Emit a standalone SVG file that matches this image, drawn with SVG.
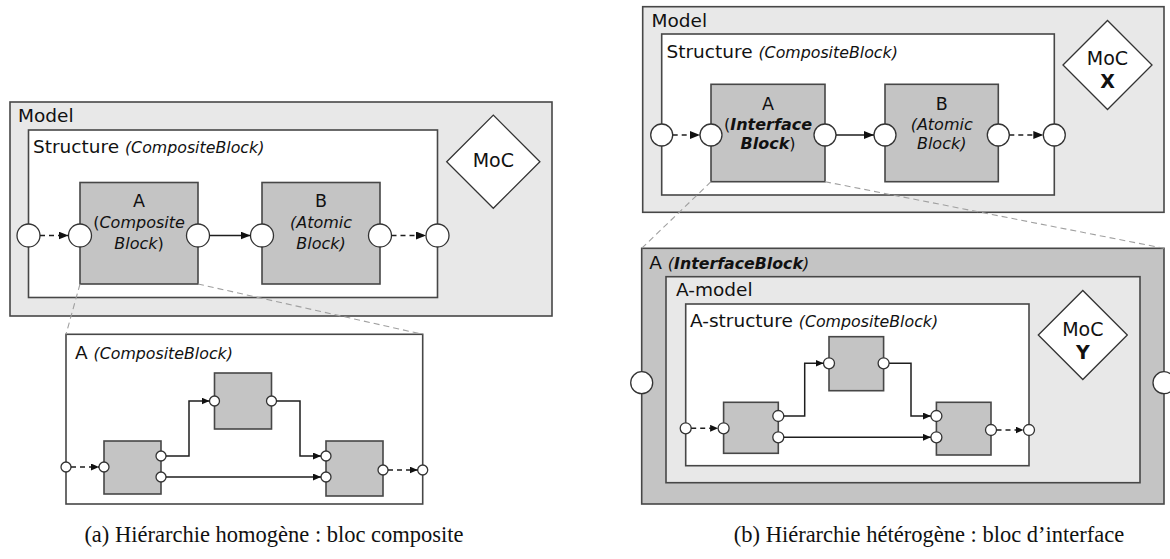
<svg xmlns="http://www.w3.org/2000/svg" width="1170" height="559" viewBox="0 0 1170 559">
<style>
.box{stroke:#474747;stroke-width:1.6}
.model{fill:#e8e8e8}
.white{fill:#ffffff}
.blk{fill:#c4c4c4}
.port{fill:#ffffff;stroke:#333333;stroke-width:1.3}
.con{fill:none;stroke:#1e1e1e;stroke-width:1.5}
.dash{stroke-dasharray:5 4}
.zl{fill:none;stroke:#a0a0a0;stroke-width:1.1;stroke-dasharray:6 4}
.dia{fill:#ffffff;stroke:#333333;stroke-width:1.3}
text{font-family:"DejaVu Sans",Verdana,sans-serif;fill:#111111}
.lbl{font-size:18.5px}
.it{font-style:italic;font-size:15.8px}
.bit{font-style:italic;font-weight:bold;font-size:15.8px}
.bl{font-size:17.5px;text-anchor:middle}
.bi{font-style:italic;font-size:16px}
.bbi{font-style:italic;font-weight:bold;font-size:16px}
.moc{font-size:19px;text-anchor:middle}
.cap{font-family:"Liberation Serif","Times New Roman",serif;font-size:22.5px;text-anchor:middle}
</style>
<defs>
<marker id="ah" markerUnits="userSpaceOnUse" markerWidth="11" markerHeight="9" refX="10" refY="4" orient="auto"><path d="M0,0 L10,4 L0,8 z" fill="#111"/></marker>
<marker id="as" markerUnits="userSpaceOnUse" markerWidth="9" markerHeight="8" refX="8" refY="3.5" orient="auto"><path d="M0,0 L8,3.5 L0,7 z" fill="#111"/></marker>
</defs>

<!-- ===== Panel (a) ===== -->
<g id="a-model">
<rect class="box model" x="10" y="102" width="542" height="214"/>
<text class="lbl" x="18" y="122">Model</text>
</g>
<g id="a-structure">
<rect class="box white" x="28.5" y="130" width="409" height="167.5"/>
<text class="lbl" x="33" y="153">Structure <tspan class="it">(CompositeBlock)</tspan></text>
</g>
<g id="a-blockA">
<rect class="box blk" x="80" y="182.5" width="118" height="101.5"/>
<text class="bl" x="139" y="207">A</text>
<text class="bl" x="139" y="228" style="font-size:16px">(<tspan class="bi">Composite</tspan></text>
<text class="bl" x="139" y="249" style="font-size:16px"><tspan class="bi">Block</tspan>)</text>
</g>
<g id="a-blockB">
<rect class="box blk" x="262" y="182.5" width="118" height="101.5"/>
<text class="bl" x="321" y="207">B</text>
<text class="bl bi" x="321" y="228">(Atomic</text>
<text class="bl bi" x="321" y="249">Block)</text>
</g>
<g id="a-moc">
<polygon class="dia" points="446.7,161.7 493.3,115.1 539.9,161.7 493.3,208.3"/>
<text class="moc" x="493.3" y="167">MoC</text>
</g>
<g id="a-ports">
<circle class="port" cx="28.5" cy="235.5" r="11.5"/>
<circle class="port" cx="80" cy="235.5" r="11.5"/>
<circle class="port" cx="198" cy="235.5" r="11.5"/>
<circle class="port" cx="262" cy="235.5" r="11.5"/>
<circle class="port" cx="380" cy="235.5" r="11.5"/>
<circle class="port" cx="437.5" cy="235.5" r="11.5"/>
</g>

<g id="a-inner">
<rect class="box white" x="66" y="334.3" width="356.7" height="169.7"/>
<text class="lbl" x="75" y="359">A <tspan class="it">(CompositeBlock)</tspan></text>
</g>
<g id="a-inner-b1"><rect class="box blk" x="104" y="441" width="57" height="53"/></g>
<g id="a-inner-b2"><rect class="box blk" x="214.5" y="373" width="57" height="56"/></g>
<g id="a-inner-b3"><rect class="box blk" x="326" y="441" width="57" height="55"/></g>
<g id="a-inner-ports">
<circle class="port" cx="66" cy="467" r="5"/>
<circle class="port" cx="104" cy="467" r="5"/>
<circle class="port" cx="161" cy="456" r="5"/>
<circle class="port" cx="161" cy="477" r="5"/>
<circle class="port" cx="214.5" cy="401" r="5"/>
<circle class="port" cx="271.5" cy="401" r="5"/>
<circle class="port" cx="326" cy="456" r="5"/>
<circle class="port" cx="326" cy="477" r="5"/>
<circle class="port" cx="383" cy="470" r="5"/>
<circle class="port" cx="422.7" cy="470" r="5"/>
</g>

<!-- ===== Panel (b) ===== -->
<g id="b-model">
<rect class="box model" x="642.7" y="6.7" width="521.3" height="205.6"/>
<text class="lbl" x="651.5" y="26.7">Model</text>
</g>
<g id="b-structure">
<rect class="box white" x="661.7" y="34" width="392.6" height="161"/>
<text class="lbl" x="666.5" y="58.3">Structure <tspan class="it">(CompositeBlock)</tspan></text>
</g>
<g id="b-blockA">
<rect class="box blk" x="711" y="84.3" width="114" height="97.4"/>
<text class="bl" x="768" y="109.5">A</text>
<text class="bl" x="768" y="129.5" style="font-size:16px">(<tspan class="bbi">Interface</tspan></text>
<text class="bl" x="768" y="149" style="font-size:16px"><tspan class="bbi">Block</tspan>)</text>
</g>
<g id="b-blockB">
<rect class="box blk" x="885" y="84.3" width="113.3" height="97.4"/>
<text class="bl" x="941.7" y="109.5">B</text>
<text class="bl bi" x="941.7" y="129.5">(Atomic</text>
<text class="bl bi" x="941.7" y="149">Block)</text>
</g>
<g id="b-mocX">
<polygon class="dia" points="1063,65 1107.5,20.5 1152,65 1107.5,109.5"/>
<text class="moc" x="1107.5" y="64.5">MoC</text>
<text class="moc" x="1107.5" y="87.5" style="font-weight:bold">X</text>
</g>
<g id="b-ports">
<circle class="port" cx="661.7" cy="135" r="11"/>
<circle class="port" cx="711" cy="135" r="11"/>
<circle class="port" cx="825" cy="135" r="11"/>
<circle class="port" cx="885" cy="135" r="11"/>
<circle class="port" cx="998.3" cy="135" r="11"/>
<circle class="port" cx="1054.3" cy="135" r="11"/>
</g>

<g id="b-interface">
<rect class="box blk" x="641.7" y="248.3" width="522.3" height="255.7"/>
<text class="lbl" x="649.3" y="269.3">A <tspan class="it">(</tspan><tspan class="bit">InterfaceBlock</tspan><tspan class="it">)</tspan></text>
</g>
<g id="b-amodel">
<rect class="box model" x="666" y="276.7" width="474" height="206"/>
<text class="lbl" x="676" y="296">A-model</text>
</g>
<g id="b-astructure">
<rect class="box white" x="685.7" y="304" width="343.3" height="161.7"/>
<text class="lbl" x="690" y="326.7">A-structure <tspan class="it">(CompositeBlock)</tspan></text>
</g>
<g id="b-mocY">
<polygon class="dia" points="1038.3,335 1082.8,290.5 1127.3,335 1082.8,379.5"/>
<text class="moc" x="1082.8" y="335.5">MoC</text>
<text class="moc" x="1082.8" y="358.5" style="font-weight:bold">Y</text>
</g>
<g id="b-inner-b1"><rect class="box blk" x="723.6" y="402.3" width="54.7" height="51"/></g>
<g id="b-inner-b2"><rect class="box blk" x="829" y="336.7" width="54.6" height="54"/></g>
<g id="b-inner-b3"><rect class="box blk" x="936.4" y="402.3" width="54.6" height="52.7"/></g>
<g id="b-ports-inner">
<circle class="port" cx="641.7" cy="382.7" r="11"/>
<circle class="port" cx="1164" cy="382.7" r="11"/>
<circle class="port" cx="685.7" cy="428.3" r="5.5"/>
<circle class="port" cx="723.6" cy="428.3" r="5.5"/>
<circle class="port" cx="778.3" cy="416" r="5.5"/>
<circle class="port" cx="778.3" cy="437.3" r="5.5"/>
<circle class="port" cx="829" cy="363.3" r="5.5"/>
<circle class="port" cx="883.6" cy="363.3" r="5.5"/>
<circle class="port" cx="936.4" cy="416" r="5.5"/>
<circle class="port" cx="936.4" cy="437.3" r="5.5"/>
<circle class="port" cx="991" cy="430" r="5.5"/>
<circle class="port" cx="1029" cy="430" r="5.5"/>
</g>

<!-- ===== Connectors ===== -->
<g id="connectors">
<path class="con dash" d="M40,235.5 H68.5" marker-end="url(#ah)"/>
<path class="con" d="M209.5,235.5 H250.5" marker-end="url(#ah)"/>
<path class="con dash" d="M391.5,235.5 H426" marker-end="url(#ah)"/>
<path class="con dash" d="M71,467 H99" marker-end="url(#as)"/>
<path class="con" d="M166,456 H189 V401 H209.5" marker-end="url(#as)"/>
<path class="con" d="M166,477 H321" marker-end="url(#as)"/>
<path class="con" d="M276.5,401 H300 V456 H321" marker-end="url(#as)"/>
<path class="con dash" d="M388,470 H417.7" marker-end="url(#as)"/>
<path class="zl" d="M80,284 L66,334.3"/>
<path class="zl" d="M198,284 L422.7,334.3"/>

<path class="con dash" d="M672.7,135 H700" marker-end="url(#ah)"/>
<path class="con" d="M836,135 H874" marker-end="url(#ah)"/>
<path class="con dash" d="M1009.3,135 H1043.3" marker-end="url(#ah)"/>
<path class="con dash" d="M691.2,428.3 H718.1" marker-end="url(#as)"/>
<path class="con" d="M783.8,416 H804.7 V363.3 H823.5" marker-end="url(#as)"/>
<path class="con" d="M889.1,363.3 H911 V416 H930.9" marker-end="url(#as)"/>
<path class="con" d="M783.8,437.3 H930.9" marker-end="url(#as)"/>
<path class="con dash" d="M996.5,430 H1023.5" marker-end="url(#as)"/>
<path class="zl" d="M711,181.7 L641.7,248.3"/>
<path class="zl" d="M825,181.7 L1164,248.3"/>
</g>

<text class="cap" x="274" y="542">(a) Hiérarchie homogène : bloc composite</text>
<text class="cap" x="929" y="542">(b) Hiérarchie hétérogène : bloc d’interface</text>
</svg>
